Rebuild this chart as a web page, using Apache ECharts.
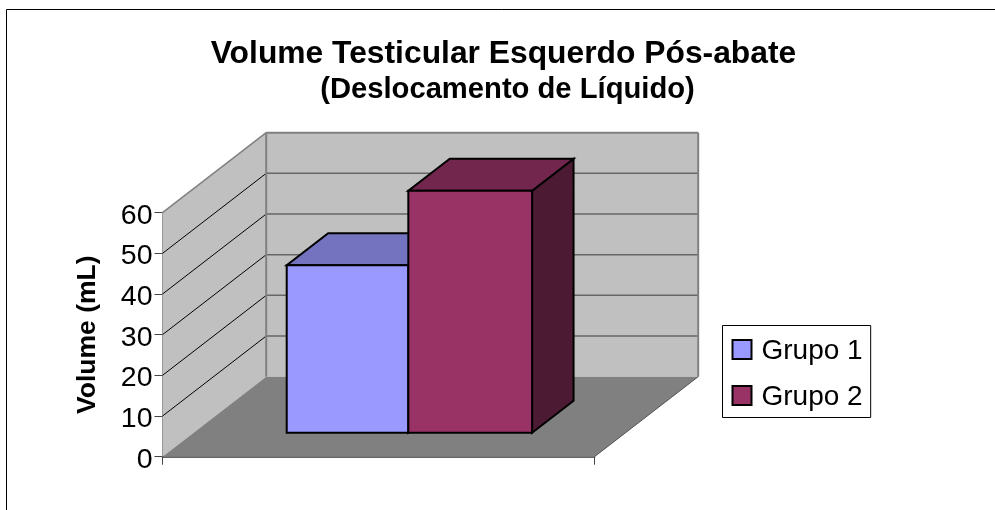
<!DOCTYPE html>
<html><head><meta charset="utf-8">
<style>html,body{margin:0;padding:0;background:#fff}#c{width:995px;height:510px}</style>
<script src="https://cdn.jsdelivr.net/npm/echarts@6/dist/echarts.min.js"></script></head>
<body><div id="c"></div>
<script>
const categories = [''];
const groupNames = ['Grupo 1', 'Grupo 2'];
const grupo1 = [41.2];
const grupo2 = [59.5];
const yTicks = [0, 10, 20, 30, 40, 50, 60];
const titleText = 'Volume Testicular Esquerdo Pós-abate';
const subtitleText = '(Deslocamento de Líquido)';
const yName = 'Volume (mL)';

const DX = 103.7, DY = -80;            // projected depth of the chart box
const BAR_DEPTH_FROM = 0.30, BAR_DEPTH_TO = 0.70;
const BAR_EDGES = [[0.2155, 0.497], [0.497, 0.7835]]; // fractions of the band
const FONT = '"Liberation Sans", Arial, sans-serif';

const chart = echarts.init(document.getElementById('c'), null, {renderer: 'canvas'});

function poly(points, fill, stroke, lw) {
  return {type: 'polygon', shape: {points}, style: {fill: fill, stroke: stroke || null, lineWidth: lw || 0, lineJoin: 'miter'}};
}
function line(a, b, color, lw) {
  return {type: 'line', shape: {x1: a[0], y1: a[1], x2: b[0], y2: b[1]}, style: {stroke: color, lineWidth: lw, fill: null}};
}
function renderWalls(params, api) {
  const c = params.coordSys, L = c.x, R = c.x + c.width;
  const y0 = api.coord([0, 0])[1], yT = api.coord([0, 60])[1];
  const children = [
    poly([[L, y0], [L + DX, y0 + DY], [L + DX, yT + DY], [L, yT]], '#c0c0c0'),
    poly([[L + DX, y0 + DY], [R + DX, y0 + DY], [R + DX, yT + DY], [L + DX, yT + DY]], '#c0c0c0'),
    poly([[L, y0], [R, y0], [R + DX, y0 + DY], [L + DX, y0 + DY]], '#808080')
  ];
  yTicks.forEach(t => {
    if (t === 0 || t === 60) return;
    const y = api.coord([0, t])[1];
    children.push(line([L, y], [L + DX, y + DY], '#000', 1));
    children.push(line([L + DX, y + DY], [R + DX, y + DY], '#666', 1.5));
  });
  children.push(line([L, yT], [L + DX, yT + DY], '#808080', 1.5));
  children.push(line([L + DX, yT + DY], [R + DX, yT + DY], '#808080', 2));
  children.push(line([R + DX, yT + DY], [R + DX, y0 + DY], '#808080', 2));
  children.push(line([L + DX, yT + DY], [L + DX, y0 + DY], '#808080', 2));
  children.push(line([R, y0], [R + DX, y0 + DY], '#555', 1));
  return {type: 'group', children};
}
function renderBar(colors, slot) {
  return function (params, api) {
    const c = params.coordSys;
    const v = api.value(1);
    const yb = api.coord([0, 0])[1], yt = api.coord([0, v])[1];
    const x0 = c.x + c.width * BAR_EDGES[slot][0], x1 = c.x + c.width * BAR_EDGES[slot][1];
    const fx = DX * BAR_DEPTH_FROM, fy = DY * BAR_DEPTH_FROM;
    const bx = DX * BAR_DEPTH_TO, by = DY * BAR_DEPTH_TO;
    const P = (x, y, dx, dy) => [x + dx, y + dy];
    return {type: 'group', children: [
      poly([P(x1, yb, fx, fy), P(x1, yb, bx, by), P(x1, yt, bx, by), P(x1, yt, fx, fy)], colors[2], '#000', 2),
      poly([P(x0, yt, fx, fy), P(x1, yt, fx, fy), P(x1, yt, bx, by), P(x0, yt, bx, by)], colors[1], '#000', 2),
      poly([P(x0, yb, fx, fy), P(x1, yb, fx, fy), P(x1, yt, fx, fy), P(x0, yt, fx, fy)], colors[0], '#000', 2)
    ]};
  };
}
const colors1 = ['#9999ff', '#7373bf', '#4d4d80'];
const colors2 = ['#993366', '#73264d', '#4d1a33'];

chart.setOption({
  animation: false,
  backgroundColor: '#fff',
  title: [
    {text: titleText, left: 498.5, top: 33, textAlign: 'center', textStyle: {fontFamily: FONT, fontWeight: 'bold', fontSize: 31.8, color: '#000'}},
    {text: subtitleText, left: 502.5, top: 70, textAlign: 'center', textStyle: {fontFamily: FONT, fontWeight: 'bold', fontSize: 29.2, color: '#000'}}
  ],
  grid: {left: 162.5, top: 212.7, width: 432, height: 244, containLabel: false},
  legend: {
    left: 722.5, top: 325.5, orient: 'vertical', data: groupNames,
    backgroundColor: '#fff', borderColor: '#000', borderWidth: 1,
    padding: [12, 8, 6, 9], itemGap: 18, itemWidth: 19, itemHeight: 19, icon: 'rect',
    selectedMode: false,
    formatter: '{t|{name}}',
    textStyle: {rich: {t: {fontFamily: FONT, fontSize: 28, color: '#000', padding: [4, 0, 0, 5]}}}
  },
  xAxis: {type: 'category', data: categories, boundaryGap: true,
    axisLine: {show: true, lineStyle: {color: '#333', width: 1.5}},
    axisTick: {show: true, length: 8, lineStyle: {color: '#444', width: 1}, alignWithLabel: false},
    axisLabel: {show: false}},
  yAxis: {type: 'value', min: 0, max: 60, interval: 10,
    name: yName, nameLocation: 'middle', nameGap: 61, nameRotate: 90,
    nameTextStyle: {fontFamily: FONT, fontWeight: 'bold', fontSize: 26.5, color: '#000'},
    axisLine: {show: true, lineStyle: {color: '#444', width: 1.5}},
    axisTick: {show: true, length: 8, lineStyle: {color: '#444', width: 1}},
    axisLabel: {margin: 10, formatter: '{t|{value}}', rich: {t: {fontFamily: FONT, fontSize: 28.5, color: '#000', padding: [6, 0, 0, 0]}}},
    splitLine: {show: false}},
  graphic: [
    {type: 'polyline', z: 0, shape: {points: [[6.5, 520], [6.5, 9.5], [1000, 9.5]]}, style: {stroke: '#000', lineWidth: 1, fill: null}}
  ],
  series: [
    {name: 'walls', type: 'custom', data: [[0, 0]], renderItem: renderWalls, clip: false, z: 1, silent: true},
    {name: groupNames[0], type: 'custom', data: grupo1.map((v, i) => [i, v]), encode: {x: 0, y: 1}, renderItem: renderBar(colors1, 0), clip: false, z: 2,
      itemStyle: {color: colors1[0], borderColor: '#000', borderWidth: 2}},
    {name: groupNames[1], type: 'custom', data: grupo2.map((v, i) => [i, v]), encode: {x: 0, y: 1}, renderItem: renderBar(colors2, 1), clip: false, z: 3,
      itemStyle: {color: colors2[0], borderColor: '#000', borderWidth: 2}}
  ]
});
</script></body></html>
